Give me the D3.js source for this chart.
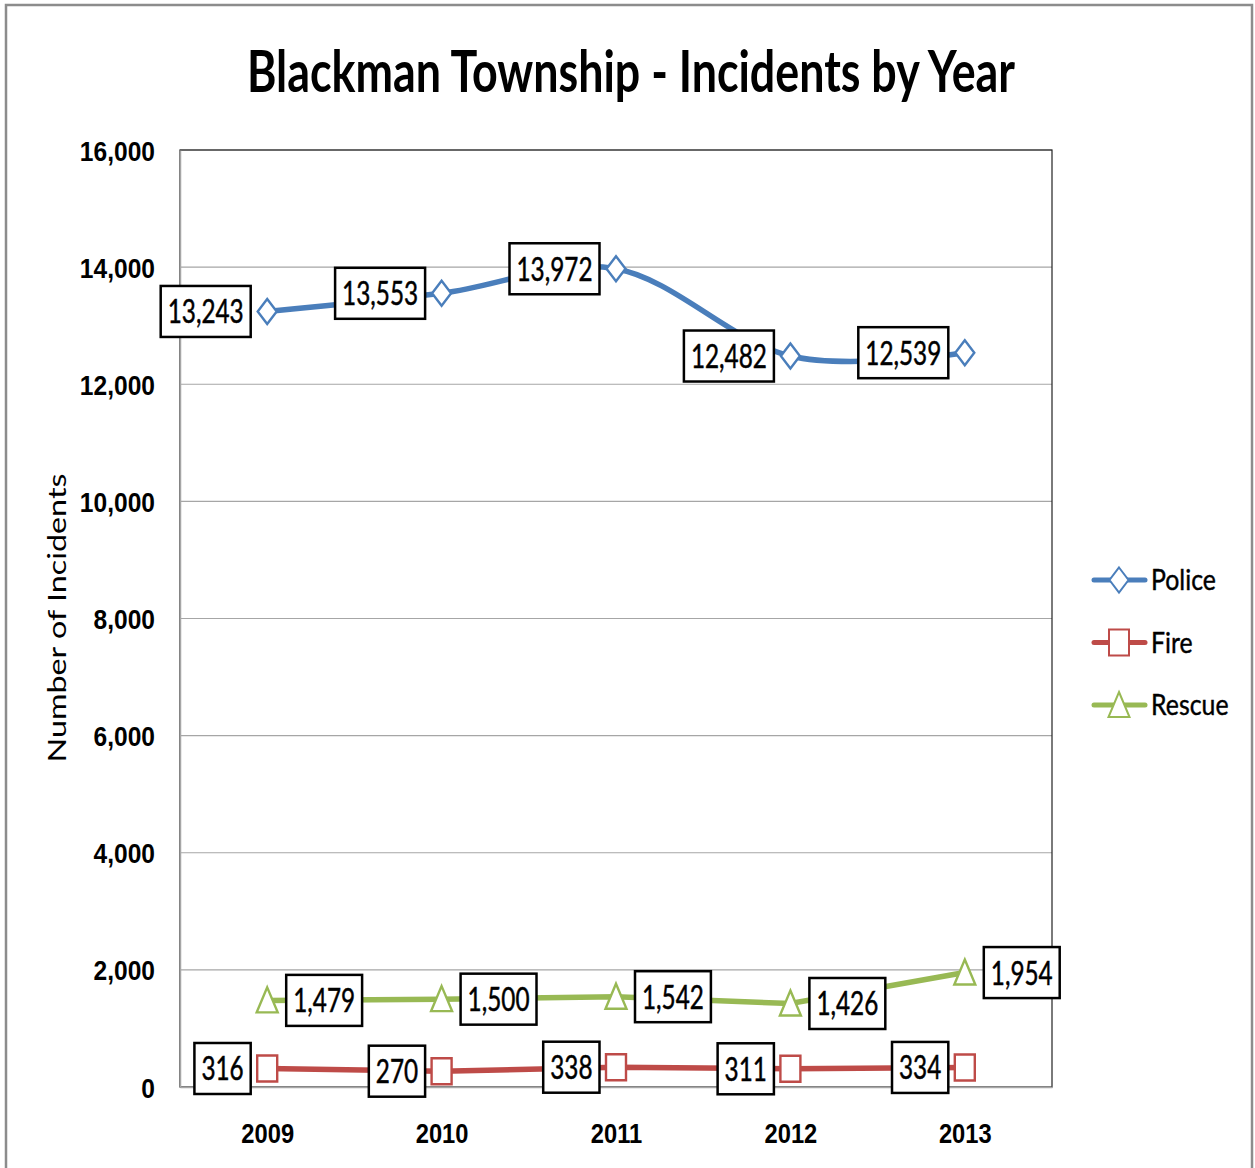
<!DOCTYPE html>
<html><head><meta charset="utf-8">
<script src="https://cdn.jsdelivr.net/npm/d3@7/dist/d3.min.js"></script>
<style>
html,body{margin:0;padding:0;background:#fff;}
svg{display:block;font-family:Lato,"Liberation Sans",Arial,sans-serif;}
</style></head>
<body>
<svg id="chart" width="1255" height="1168"></svg>
<script>
const title = "Blackman Township - Incidents by Year";
const yTitle = "Number of Incidents";
const years = ["2009","2010","2011","2012","2013"];
const seriesNames = ["Police","Fire","Rescue"];
const police = [13243,13553,13972,12482,12539];
const fire = [316,270,338,311,334];
const rescue = [1479,1500,1542,1426,1954];
const yTicks = [0,2000,4000,6000,8000,10000,12000,14000,16000];

const svg = d3.select("#chart");
const plot = {l:180, r:1052, t:150, b:1087};

function ratioFor(str, refW, size, weight){
  const t = svg.append("text").attr("font-size",size).attr("font-weight",weight).text(str);
  const w = t.node().getComputedTextLength();
  t.remove();
  return refW / w;
}
function condense(sel, ratio){
  sel.each(function(){
    const w = this.getComputedTextLength();
    d3.select(this).attr("textLength", w*ratio).attr("lengthAdjust","spacingAndGlyphs");
  });
}

// outer frame
svg.append("rect").attr("x",6).attr("y",5).attr("width",1246).attr("height",1220)
  .attr("fill","#fff").attr("stroke","#8c8c8c").attr("stroke-width",2.5);

const x = d3.scalePoint().domain(years).range([plot.l, plot.r]).padding(0.5);
const y = d3.scaleLinear().domain([0,16000]).range([plot.b, plot.t]);

// title
const tr = ratioFor(title, 768, 58, "bold");
const tt = svg.append("text").attr("x",631).attr("y",92).attr("text-anchor","middle")
  .attr("font-size",58).attr("font-weight","bold").attr("fill","#000").text(title);
condense(tt, tr);

// gridlines
svg.append("g").selectAll("line").data(yTicks.filter(d=>d>0)).join("line")
  .attr("x1",plot.l).attr("x2",plot.r).attr("y1",d=>y(d)).attr("y2",d=>y(d))
  .attr("stroke","#a6a6a6").attr("stroke-width",1.2);
svg.append("rect").attr("x",plot.l).attr("y",plot.t).attr("width",plot.r-plot.l).attr("height",plot.b-plot.t)
  .attr("fill","none").attr("stroke","#222").attr("stroke-width",1.2);

// y axis
const yAxis = svg.append("g").attr("transform",`translate(${plot.l},0)`)
  .call(d3.axisLeft(y).tickValues(yTicks).tickFormat(d3.format(",")).tickSize(0).tickPadding(25));
yAxis.select(".domain").attr("stroke","#a6a6a6").attr("stroke-width",1.5);
const tickR = ratioFor("16,000", 77, 28, "bold");
yAxis.selectAll("text").attr("font-size",28).attr("font-weight","bold").attr("font-family",null)
  .attr("fill","#000").attr("dy",null).attr("y",10);
condense(yAxis.selectAll("text"), tickR);

// x axis
const xAxis = svg.append("g").attr("transform",`translate(0,${plot.b})`)
  .call(d3.axisBottom(x).tickSize(0).tickPadding(0));
xAxis.select(".domain").attr("stroke","#a6a6a6").attr("stroke-width",1.5);
const xR = ratioFor("2009", 55, 28, "bold");
xAxis.selectAll("text").attr("font-size",28).attr("font-weight","bold").attr("font-family",null)
  .attr("fill","#000").attr("dy",null).attr("y",56);
condense(xAxis.selectAll("text"), xR);

// y title
const ytR = ratioFor(yTitle, 289, 25, "normal");
const yt = svg.append("text").attr("transform","translate(66,618) rotate(-90)")
  .attr("text-anchor","middle").attr("font-size",25).attr("fill","#000").text(yTitle);
condense(yt, ytR);

const series = [
  {name:"Police", values:police, color:"#4a7ebb", marker:"diamond", curve:d3.curveCardinal.tension(0), side:"left"},
  {name:"Fire", values:fire, color:"#be4b48", marker:"square", curve:d3.curveLinear, side:"left"},
  {name:"Rescue", values:rescue, color:"#98b954", marker:"triangle", curve:d3.curveLinear, side:"right"}
];
function markerPath(type){
  if(type==="diamond") return "M0,-12.5L9.5,0L0,12.5L-9.5,0Z";
  if(type==="square") return "M-10,-13H10V13H-10Z";
  return "M0,-13L10.5,12L-10.5,12Z";
}

const lineGen = c => d3.line().x((d,i)=>x(years[i])).y(d=>y(d)).curve(c);
series.forEach(s=>{
  svg.append("path").attr("d", lineGen(s.curve)(s.values))
    .attr("fill","none").attr("stroke",s.color).attr("stroke-width",5.5).attr("stroke-linecap","round");
});
series.forEach(s=>{
  svg.append("g").selectAll("path").data(s.values).join("path")
    .attr("transform",(d,i)=>`translate(${x(years[i])},${y(d)})`)
    .attr("d",markerPath(s.marker)).attr("fill","#fff").attr("stroke",s.color).attr("stroke-width",2.4);
});

// data labels
const fmt = d3.format(",");
const lblR = ratioFor("13,243", 76, 33, "normal");
series.forEach(s=>{
  s.values.forEach((v,i)=>{
    const px = x(years[i]), py = y(v);
    const g = svg.append("g");
    const t = g.append("text").attr("font-size",33).attr("fill","#000").attr("text-anchor","middle")
      .attr("stroke","#000").attr("stroke-width",0.5).text(fmt(v));
    const tw = t.node().getComputedTextLength()*lblR;
    t.attr("textLength",tw).attr("lengthAdjust","spacingAndGlyphs");
    const bw = tw + 14, bh = 51;
    const bx = s.side==="left" ? px - 16.5 - bw : px + 19;
    g.insert("rect","text").attr("x",bx).attr("y",py-bh/2).attr("width",bw).attr("height",bh)
      .attr("fill","#fff").attr("stroke","#000").attr("stroke-width",2.5);
    t.attr("x",bx+bw/2).attr("y",py+12);
  });
});

// legend
const legR = ratioFor("Police", 65, 28, "normal");
series.forEach((s,i)=>{
  const ly = 580 + i*62.5;
  const g = svg.append("g");
  g.append("line").attr("x1",1094).attr("x2",1145).attr("y1",ly).attr("y2",ly)
    .attr("stroke",s.color).attr("stroke-width",5).attr("stroke-linecap","round");
  g.append("path").attr("transform",`translate(1119,${ly})`).attr("d",markerPath(s.marker))
    .attr("fill","#fff").attr("stroke",s.color).attr("stroke-width",2);
  const t = g.append("text").attr("x",1151).attr("y",ly+10).attr("font-size",28).attr("fill","#000")
    .attr("stroke","#000").attr("stroke-width",0.4).text(s.name);
  condense(t, legR);
});
</script>
</body></html>
